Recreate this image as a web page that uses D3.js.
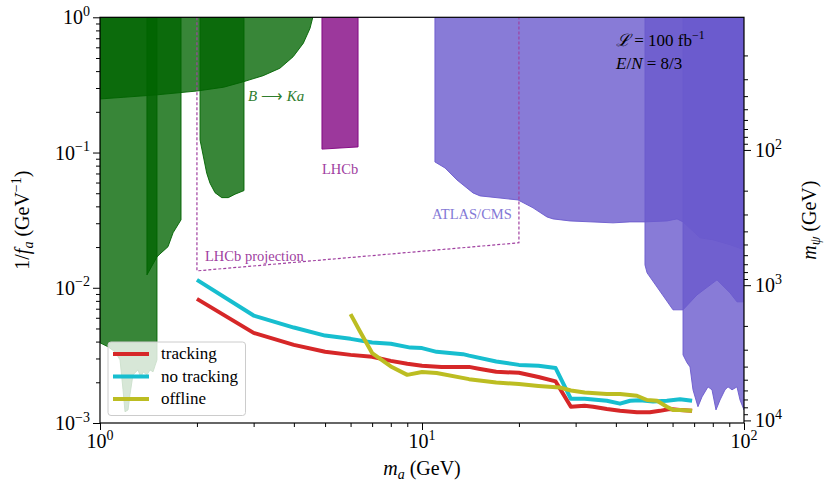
<!DOCTYPE html>
<html><head><meta charset="utf-8">
<script src="https://cdn.jsdelivr.net/npm/d3@7"></script>
<style>
body{margin:0;background:#fff}
svg{display:block}
text{font-family:"Liberation Serif","Times New Roman",serif;fill:#000}
</style>
</head><body><svg id="chart" width="831" height="500"></svg>
<script>
// ---------- data ----------
const xTicksMajor = [1, 10, 100];
const yTicksMajor = [1e-3, 1e-2, 1e-1, 1];
const mpsiTicksMajor = [100, 1000, 10000];
const mpsiFactor = 10.45; // m_psi = mpsiFactor / (1/f_a)

const seriesNames = ["tracking", "no tracking", "offline"];
const seriesColors = ["#d62728", "#17becf", "#bcbd22"];

const massTracking = [2,3,4,5,6,7,8,9,10,11.5,14,15,17,20,23,26,29,32,34,37.5,41.2,46.5,51,54.8,58.9,63.3,69];
const valTracking  = [0.00828,0.00464,0.00378,0.00336,0.00319,0.00309,0.00288,0.00274,0.00265,0.0026,0.0026,0.00252,0.00239,0.00235,0.00219,0.00203,0.00132,0.00134,0.00132,0.00127,0.00123,0.0012,0.0012,0.00123,0.00127,0.00125,0.00123];

const massNoTracking = [2,3,4,5,6,7,8,9.2,10,11.1,13.4,14,17,20,23,26,29,32,37.5,41.2,44.3,47.5,52.2,57.6,63.3,69];
const valNoTracking  = [0.01143,0.00623,0.00508,0.00443,0.00419,0.00394,0.00385,0.00361,0.00358,0.00336,0.00323,0.00315,0.00285,0.00269,0.00265,0.00255,0.00151,0.00151,0.00146,0.00139,0.00146,0.00147,0.00144,0.00146,0.0015,0.00146];

const massOffline = [6,6.42,7,8,9,10,11.1,14,17,20,23,26.8,29,32,37.5,41.2,46.5,50,53.7,57.6,60.2,63.3,69];
const valOffline  = [0.00638,0.00475,0.00329,0.00262,0.00227,0.00238,0.00234,0.00211,0.00199,0.00194,0.00188,0.00183,0.00174,0.00168,0.00164,0.00164,0.00159,0.00148,0.00146,0.00132,0.00125,0.00125,0.00123];

// excluded regions: [m_a, 1/f_a]
const regionBtoKa = [[1,1],[4.58,1],[4.49,0.829],[4.28,0.643],[3.98,0.511],[3.62,0.42],[3.21,0.37],[2.79,0.334],[2.42,0.304],[2.0,0.285],[1.5,0.267],[1.18,0.256],[1,0.249]];
const regionGreenLeft = [[1,1],[1.785,1],[1.785,0.0318],[1.686,0.0255],[1.626,0.0201],[1.536,0.0178],[1.503,0.0169],[1.503,0.00293],[1.482,0.00265],[1.461,0.00239],[1.43,0.00247],[1.399,0.00227],[1.36,0.00239],[1.341,0.00216],[1.312,0.00247],[1.266,0.00227],[1.239,0.00162],[1.222,0.00125],[1.196,0.00121],[1.179,0.00176],[1.154,0.00293],[1.113,0.00336],[1.059,0.00366],[1,0.00392]];
const regionGreenStrip = [[1.399,1],[1.503,1],[1.503,0.0169],[1.399,0.01245]];
const regionGreenMid = [[2.045,1],[2.8,1],[2.8,0.0523],[2.626,0.0492],[2.503,0.0464],[2.388,0.0464],[2.276,0.0505],[2.196,0.0593],[2.145,0.0703],[2.045,0.1239]];
const regionLHCb = [[4.89,1],[6.33,1],[6.33,0.11],[4.89,0.106]];
const lineLHCbProjection = [[2.0,1],[2.0,0.01333],[20,0.0215],[20,1]];
const regionAtlas = [[10.97,1],[100,1],[100,0.0191],[90.47,0.0208],[80.13,0.0226],[73.03,0.0234],[64.66,0.0307],[61.94,0.0323],[57.67,0.0312],[49.26,0.0307],[44.26,0.0307],[39.2,0.0302],[28.82,0.0312],[25.52,0.0323],[24.44,0.0334],[22.12,0.039],[19.87,0.0446],[15.14,0.0478],[14.4,0.0503],[12.84,0.0627],[11.79,0.0769],[10.97,0.0852]];
const regionAtlas2 = [[49.26,1],[100,1],[100,0.00787],[95.1,0.00787],[90.47,0.00917],[82.44,0.01144],[71.45,0.00886],[64.66,0.00687],[60.19,0.00687],[50,0.01289],[49.26,0.01476]];
const regionAtlas3 = [[64.66,1],[100,1],[100,0.00125],[97.2,0.00148],[95.1,0.00185],[91.8,0.00176],[89.2,0.00185],[87.3,0.00176],[84.24,0.00148],[81.85,0.00125],[79.55,0.00176],[77.3,0.00185],[74.06,0.00156],[71.95,0.00132],[69.44,0.00176],[67.97,0.0026],[66.53,0.00279],[64.66,0.00319]];

// ---------- layout ----------
const W = 831, H = 500;
const L = 100, R = 744, T = 17.3, B = 423;
const svg = d3.select("#chart");

const x = d3.scaleLog().domain([1, 100]).range([L, R]);
const y = d3.scaleLog().domain([1e-3, 1]).range([B, T]);
const yR = d3.scaleLog().domain([mpsiFactor / 1, mpsiFactor / 1e-3]).range([T, B]);

svg.append("defs").append("clipPath").attr("id", "clip")
  .append("rect").attr("x", L).attr("y", T).attr("width", R - L).attr("height", B - T);

const plot = svg.append("g").attr("clip-path", "url(#clip)");
const areaLine = d3.line().x(d => x(d[0])).y(d => y(d[1]));

function region(data, color, alpha) {
  plot.append("path").attr("d", areaLine(data) + "Z")
    .attr("fill", color).attr("fill-opacity", alpha)
    .attr("stroke", color).attr("stroke-opacity", 0.9).attr("stroke-width", 1)
    .attr("stroke-linejoin", "round");
}
const green = "#006400", purple = "#800080", slate = "#6a5acd";
region(regionGreenLeft, green, 0.78);
region(regionGreenStrip, green, 0.78);
region(regionGreenMid, green, 0.78);
region(regionBtoKa, green, 0.78);
region(regionLHCb, purple, 0.78);
region(regionAtlas, slate, 0.8);
region(regionAtlas2, slate, 0.8);
region(regionAtlas3, slate, 0.8);

plot.append("path").attr("d", areaLine(lineLHCbProjection))
  .attr("fill", "none").attr("stroke", "#a040a0").attr("stroke-width", 1.2)
  .attr("stroke-dasharray", "3,2");

const series = [
  [massTracking, valTracking],
  [massNoTracking, valNoTracking],
  [massOffline, valOffline]
];
series.forEach((s, i) => {
  const pts = s[0].map((m, k) => [m, s[1][k]]);
  plot.append("path").attr("d", areaLine(pts)).attr("fill", "none")
    .attr("stroke", seriesColors[i]).attr("stroke-width", 4)
    .attr("stroke-linejoin", "round");
});

// ---------- rich text helper ----------
function rich(sel, parts, fs) {
  let shift = 0;
  parts.forEach(p => {
    const target = p.sub ? fs * 0.22 : p.sup ? -fs * 0.42 : 0;
    const ts = sel.append("tspan").text(p.t).attr("dy", target - shift);
    shift = target;
    if (p.sub || p.sup) ts.attr("font-size", fs * 0.7);
    if (p.it) ts.attr("font-style", "italic");
  });
  return sel;
}
function powLabel(e) { return [{t: "10"}, {t: e < 0 ? "\u2212" + (-e) : String(e), sup: true}]; }

// annotations
rich(svg.append("text").attr("x", 248).attr("y", 101).attr("font-size", 15).style("fill", "#2e7d2e"),
  [{t: "B", it: true}, {t: " \u27f6 "}, {t: "Ka", it: true}], 15);
svg.append("text").attr("x", 322).attr("y", 174).attr("font-size", 14.5).style("fill", "#a040a0").text("LHCb");
svg.append("text").attr("x", 205).attr("y", 261).attr("font-size", 14.5).style("fill", "#a040a0").text("LHCb projection");
svg.append("text").attr("x", 432).attr("y", 219).attr("font-size", 14.5).style("fill", "#8479d6").text("ATLAS/CMS");
rich(svg.append("text").attr("x", 616).attr("y", 46).attr("font-size", 17),
  [{t: "\u2112", it: true}, {t: " = 100 fb"}, {t: "\u22121", sup: true}], 17);
rich(svg.append("text").attr("x", 616).attr("y", 69).attr("font-size", 17),
  [{t: "E", it: true}, {t: "/"}, {t: "N", it: true}, {t: " = 8/3"}], 17);

// ---------- legend ----------
const lg = svg.append("g");
lg.append("rect").attr("x", 108).attr("y", 342).attr("width", 137.5).attr("height", 73.5)
  .attr("rx", 3).attr("fill", "#fff").attr("fill-opacity", 0.8)
  .attr("stroke", "#cccccc").attr("stroke-width", 1);
seriesNames.forEach((n, i) => {
  const yy = 354 + i * 22.5;
  lg.append("line").attr("x1", 113).attr("x2", 149).attr("y1", yy).attr("y2", yy)
    .attr("stroke", seriesColors[i]).attr("stroke-width", 4);
  lg.append("text").attr("x", 161).attr("y", yy + 5).attr("font-size", 17).text(n);
});

// ---------- axes ----------
function minorTicks(lo, hi) {
  const out = [];
  for (let d = Math.floor(Math.log10(lo)); d <= Math.ceil(Math.log10(hi)); d++)
    for (let k = 2; k <= 9; k++) { const v = k * Math.pow(10, d); if (v > lo && v < hi) out.push(v); }
  return out;
}
function drawAxis(axisGen, transform) {
  const g = svg.append("g").attr("transform", transform).call(axisGen);
  g.select(".domain").remove();
  g.selectAll("line").attr("stroke", "#000").attr("stroke-width", 1);
  g.selectAll("text").remove();
  return g;
}
drawAxis(d3.axisBottom(x).tickValues(xTicksMajor).tickSize(7).tickFormat(""), `translate(0,${B})`);
drawAxis(d3.axisBottom(x).tickValues(minorTicks(1, 100)).tickSize(4).tickFormat(""), `translate(0,${B})`);
drawAxis(d3.axisLeft(y).tickValues(yTicksMajor).tickSize(7).tickFormat(""), `translate(${L},0)`);
drawAxis(d3.axisLeft(y).tickValues(minorTicks(1e-3, 1)).tickSize(4).tickFormat(""), `translate(${L},0)`);
drawAxis(d3.axisRight(yR).tickValues(mpsiTicksMajor).tickSize(7).tickFormat(""), `translate(${R},0)`);
drawAxis(d3.axisRight(yR).tickValues(minorTicks(mpsiFactor, mpsiFactor * 1000)).tickSize(4).tickFormat(""), `translate(${R},0)`);

svg.append("rect").attr("x", L).attr("y", T).attr("width", R - L).attr("height", B - T)
  .attr("fill", "none").attr("stroke", "#000").attr("stroke-width", 1.2);

const tfs = 20;
xTicksMajor.forEach(v => {
  rich(svg.append("text").attr("x", x(v)).attr("y", B + 25).attr("font-size", tfs).attr("text-anchor", "middle"),
    powLabel(Math.round(Math.log10(v))), tfs);
});
yTicksMajor.forEach(v => {
  rich(svg.append("text").attr("x", L - 10).attr("y", y(v) + 7).attr("font-size", tfs).attr("text-anchor", "end"),
    powLabel(Math.round(Math.log10(v))), tfs);
});
mpsiTicksMajor.forEach(v => {
  rich(svg.append("text").attr("x", R + 11).attr("y", yR(v) + 7).attr("font-size", tfs),
    powLabel(Math.round(Math.log10(v))), tfs);
});

// axis titles
rich(svg.append("text").attr("x", (L + R) / 2).attr("y", 475).attr("font-size", 20).attr("text-anchor", "middle"),
  [{t: "m", it: true}, {t: "a", it: true, sub: true}, {t: " (GeV)"}], 20);
rich(svg.append("text").attr("transform", `translate(29,${(T + B) / 2}) rotate(-90)`).attr("font-size", 20).attr("text-anchor", "middle"),
  [{t: "1/"}, {t: "f", it: true}, {t: "a", it: true, sub: true}, {t: " (GeV"}, {t: "\u22121", sup: true}, {t: ")"}], 20);
rich(svg.append("text").attr("transform", `translate(816,${(T + B) / 2}) rotate(-90)`).attr("font-size", 20).attr("text-anchor", "middle"),
  [{t: "m", it: true}, {t: "\u03c8", it: true, sub: true}, {t: " (GeV)"}], 20);
</script>
</body></html>
